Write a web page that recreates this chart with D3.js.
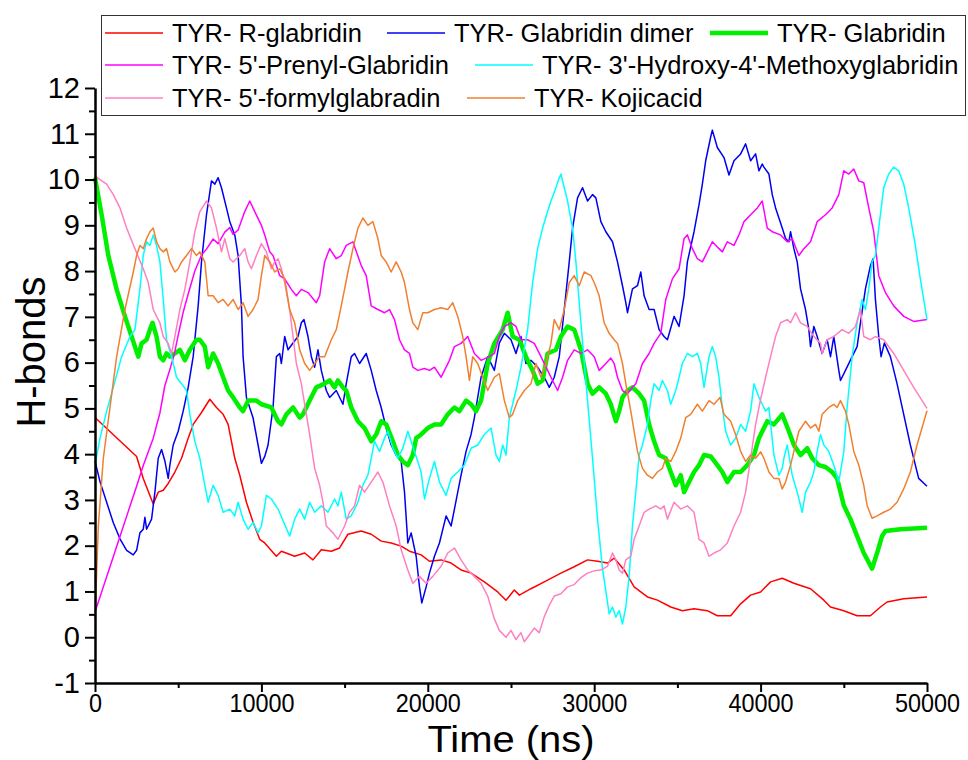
<!DOCTYPE html>
<html>
<head>
<meta charset="utf-8">
<script src="https://cdn.jsdelivr.net/npm/d3@7"></script>
<style>
  body { margin: 0; background: #fff; }
  svg { display: block; font-family: "Liberation Sans", Arial, sans-serif; }
</style>
</head>
<body>
<div id="chart"></div>
<script>
// time (ns), H-bonds
const rGlabridin = [[0,4.8],[2500,3.95],[2900,3.47],[3500,2.91],[3800,3.17],[4100,3.21],[4400,3.36],[4800,3.61],[5200,3.91],[5600,4.35],[5900,4.65],[6400,4.91],[6900,5.2],[7300,5.02],[7700,4.87],[8000,4.65],[8400,3.91],[8700,3.54],[9100,2.95],[9500,2.51],[9900,2.14],[10200,2.06],[10900,1.77],[11200,1.88],[12000,1.77],[12600,1.84],[13100,1.69],[13600,1.91],[14200,1.88],[14700,1.95],[15200,2.25],[16000,2.32],[16600,2.25],[17200,2.1],[17800,2.06],[18400,1.99],[18900,1.88],[19600,1.8],[20100,1.66],[20800,1.69],[21400,1.62],[22000,1.47],[22600,1.4],[23400,1.21],[24200,0.99],[24700,0.81],[25200,1.03],[25500,0.92],[26200,1.06],[27000,1.21],[28000,1.4],[28800,1.54],[29600,1.69],[30200,1.66],[30800,1.62],[31200,1.73],[31800,1.47],[32400,1.1],[33200,0.88],[33800,0.81],[34600,0.66],[35300,0.58],[36000,0.62],[36800,0.58],[37400,0.47],[38200,0.47],[38800,0.73],[39400,0.92],[40000,0.99],[40600,1.21],[41300,1.29],[42000,1.18],[43000,1.06],[43800,0.81],[44200,0.66],[45000,0.58],[45800,0.47],[46600,0.47],[47200,0.66],[47600,0.77],[48600,0.84],[50000,0.88]];

const glabridinDimer = [[0,3.85],[300,3.4],[700,2.95],[1100,2.5],[1500,2.15],[1900,1.9],[2300,1.8],[2500,1.9],[2700,2.28],[2900,2.36],[3000,2.62],[3100,2.36],[3400,2.58],[3600,3.17],[3800,3.91],[4000,4.1],[4200,3.85],[4400,3.47],[4500,3.76],[4700,4.2],[5000,4.5],[5300,4.94],[5600,5.46],[5900,6.13],[6200,7.24],[6400,8.2],[6700,9.23],[7000,9.97],[7200,9.9],[7400,10.04],[7600,9.82],[7900,9.38],[8100,9.08],[8400,8.79],[8600,8.34],[8800,7.24],[8900,6.13],[9100,5.24],[9500,4.79],[9800,4.2],[10000,3.8],[10200,3.95],[10400,4.2],[10700,5.02],[10900,6.13],[11100,6.2],[11200,5.98],[11400,6.57],[11600,6.28],[11900,6.43],[12200,6.57],[12400,6.87],[12560,6.94],[12800,6.57],[13000,6.13],[13200,5.9],[13400,6.28],[13600,5.83],[13900,5.39],[14100,5.24],[14500,5.39],[14900,5.09],[15100,5.54],[15400,6.13],[15600,6.2],[15900,5.98],[16300,6.2],[16600,5.83],[16900,5.39],[17200,5.02],[17500,4.57],[17800,4.2],[18100,3.98],[18400,3.84],[18600,3.17],[18800,2.06],[19000,2.28],[19300,1.77],[19500,1.1],[19640,0.75],[19900,1.1],[20100,1.4],[20400,1.77],[20700,2.06],[21100,2.65],[21400,2.43],[21600,2.8],[22000,3.54],[22300,4.06],[22600,4.43],[22800,4.8],[23000,5.24],[23200,5.68],[23600,6.13],[24000,5.83],[24300,6.43],[24600,6.64],[25000,6.5],[25300,6.2],[25600,6.57],[25900,5.98],[26200,6.05],[26600,5.9],[27100,5.61],[27300,5.46],[27600,5.68],[27900,6.13],[28200,7.16],[28500,8.2],[28700,8.94],[29000,9.6],[29300,9.82],[29600,9.53],[29900,9.67],[30100,9.6],[30400,9.08],[30700,8.86],[31100,8.64],[31400,8.2],[31700,7.68],[31900,7.31],[32000,7.09],[32300,7.61],[32600,7.68],[32800,7.98],[33000,7.46],[33300,7.16],[33600,7.16],[33900,6.72],[34200,6.57],[34400,6.5],[34800,7.01],[35100,6.79],[35400,7.46],[35600,8.2],[36000,8.86],[36300,9.45],[36500,9.9],[36700,10.41],[37000,10.93],[37100,11.08],[37400,10.7],[37800,10.48],[38100,10.1],[38400,10.41],[38800,10.56],[39100,10.78],[39400,10.41],[39700,10.56],[39900,10.19],[40100,10.34],[40200,10.27],[40500,10.12],[40700,9.67],[40900,9.38],[41100,9.16],[41300,8.94],[41500,8.71],[41700,8.64],[41800,8.86],[42000,8.49],[42200,8.2],[42400,7.61],[42700,7.16],[42900,6.72],[43000,6.35],[43200,6.79],[43400,6.57],[43700,6.2],[44000,6.5],[44200,6.13],[44400,6.57],[44700,5.83],[44800,5.61],[45100,5.83],[45500,6.13],[45800,6.35],[46000,6.87],[46300,7.61],[46600,8.12],[46760,8.27],[46900,7.38],[47100,6.57],[47240,6.13],[47440,6.43],[47800,6.13],[48200,5.54],[48600,4.87],[49000,4.2],[49500,3.47],[50000,3.3]];

const glabridin = [[0,10.04],[400,9.23],[800,8.34],[1300,7.6],[1800,7.01],[2200,6.57],[2600,6.13],[2800,6.42],[3100,6.5],[3300,6.72],[3460,6.87],[3700,6.57],[3900,6.13],[4100,6.05],[4300,6.2],[4500,6.13],[4800,6.2],[5100,6.28],[5400,6.05],[5700,6.28],[6100,6.5],[6300,6.5],[6600,6.35],[6800,5.9],[7100,6.2],[7400,5.98],[7700,5.68],[8000,5.39],[8300,5.24],[8700,5.02],[8900,4.94],[9200,5.17],[9700,5.17],[10000,5.09],[10600,5.02],[11000,4.72],[11200,4.65],[11500,4.87],[11900,5.02],[12300,4.8],[12500,4.87],[12900,5.17],[13300,5.46],[13800,5.54],[14100,5.61],[14400,5.46],[14600,5.61],[14900,5.46],[15100,5.39],[15400,5.02],[15800,4.72],[16200,4.57],[16600,4.28],[16900,4.43],[17200,4.72],[17500,4.65],[17900,4.28],[18200,3.98],[18500,3.84],[18800,3.76],[19100,3.98],[19300,4.35],[19600,4.43],[20000,4.57],[20400,4.65],[20800,4.65],[21200,4.87],[21600,5.02],[21900,4.94],[22300,5.17],[22600,5.09],[22900,4.94],[23200,5.17],[23600,5.98],[24000,6.42],[24500,6.72],[24800,7.09],[25100,6.57],[25500,6.5],[25900,6.13],[26300,5.83],[26600,5.54],[26900,5.61],[27200,6.2],[27700,6.28],[28000,6.57],[28400,6.79],[28800,6.72],[29200,6.28],[29600,5.54],[29900,5.32],[30300,5.46],[30700,5.32],[31000,5.09],[31300,4.72],[31500,4.94],[31700,5.24],[32000,5.39],[32300,5.46],[32700,5.32],[33000,5.17],[33300,4.65],[33600,4.28],[33900,3.98],[34300,3.91],[34600,3.61],[34900,3.32],[35200,3.54],[35400,3.17],[35700,3.39],[36000,3.61],[36300,3.76],[36600,3.98],[37000,3.95],[37400,3.76],[37700,3.61],[38000,3.39],[38400,3.61],[38800,3.61],[39200,3.76],[39600,3.98],[39900,4.35],[40400,4.72],[40800,4.65],[41300,4.87],[41700,4.5],[42000,4.2],[42400,3.98],[42800,4.13],[43100,3.91],[43500,3.76],[43900,3.72],[44300,3.61],[44600,3.47],[45000,2.88],[45400,2.58],[45800,2.21],[46200,1.84],[46700,1.5],[47000,1.84],[47300,2.21],[47500,2.32],[48400,2.36],[50000,2.39]];

const prenylGlabridin = [[0,0.55],[500,1.1],[1000,1.65],[1500,2.2],[2000,2.75],[2500,3.3],[2900,3.75],[3500,4.35],[3900,4.9],[4200,5.5],[4500,5.85],[4750,6.16],[5000,6.6],[5300,7.1],[5600,7.5],[6000,8.0],[6400,8.35],[6700,8.48],[7100,8.7],[7400,8.6],[7800,8.85],[8100,8.95],[8300,8.8],[8600,8.9],[9000,9.3],[9300,9.53],[9600,9.3],[10000,9.0],[10200,8.79],[10500,8.42],[10700,8.34],[11100,7.9],[11400,7.83],[11800,7.6],[12100,7.46],[12400,7.6],[12800,7.53],[13300,7.31],[13500,7.46],[13800,8.2],[14100,8.49],[14500,8.27],[14800,8.34],[15100,8.56],[15500,8.64],[16000,8.12],[16300,7.9],[16600,7.24],[17000,7.16],[17400,7.09],[17700,7.16],[18000,6.94],[18300,6.5],[18600,6.28],[18900,6.2],[19100,5.9],[19400,5.83],[19800,5.87],[20100,5.83],[20400,5.9],[20800,5.68],[21100,5.9],[21300,6.05],[21600,6.35],[22000,6.42],[22400,6.57],[22800,6.2],[23200,6.05],[23700,6.13],[24000,6.2],[24300,6.57],[24600,6.79],[25000,6.87],[25300,6.79],[25600,6.5],[26000,6.5],[26400,6.42],[26800,6.13],[27200,5.83],[27500,5.61],[27800,5.39],[28100,5.68],[28400,6.05],[28800,6.28],[29200,6.2],[29600,6.28],[30000,6.13],[30300,5.83],[30700,5.98],[31000,6.1],[31200,5.98],[31400,5.68],[31700,5.39],[32000,5.32],[32300,5.46],[32500,5.54],[32900,5.98],[33300,6.2],[33600,6.42],[34000,6.64],[34300,7.38],[34700,7.83],[35100,8.05],[35400,8.71],[35600,8.79],[35900,8.49],[36200,8.27],[36500,8.2],[36800,8.42],[37100,8.64],[37500,8.49],[37700,8.42],[38000,8.64],[38400,8.56],[38700,8.79],[39000,9.08],[39400,9.23],[39800,9.38],[40100,9.53],[40400,8.94],[40700,8.86],[41200,8.79],[41600,8.64],[41900,8.71],[42300,8.34],[42600,8.49],[43000,8.64],[43400,9.08],[43900,9.23],[44300,9.38],[44700,9.67],[45000,10.19],[45300,10.12],[45600,10.23],[45900,9.97],[46200,9.93],[46500,9.38],[46800,8.86],[47100,7.9],[47500,7.53],[48000,7.24],[48600,7.01],[49200,6.9],[50000,6.94]];

const hydroxyMethoxy = [[0,3.76],[300,4.35],[700,4.94],[1100,5.46],[1600,6.13],[2100,6.57],[2400,6.72],[2600,7.31],[2700,7.61],[2900,8.34],[3100,8.64],[3300,8.56],[3500,8.79],[3700,8.56],[3900,8.2],[4100,7.38],[4300,6.5],[4600,6.13],[4900,5.68],[5200,5.54],[5500,5.39],[5700,4.87],[6000,4.28],[6300,3.91],[6600,3.32],[6800,2.95],[7100,3.32],[7400,3.1],[7700,2.73],[8100,2.8],[8400,2.65],[8600,2.95],[8900,2.58],[9200,2.36],[9500,2.51],[9800,2.28],[10000,2.43],[10300,3.1],[10600,3.02],[11000,2.8],[11700,2.21],[12000,2.58],[12300,2.8],[12600,2.58],[12900,2.95],[13200,2.73],[13600,2.87],[14000,2.73],[14400,3.02],[14600,2.87],[14800,3.17],[15100,2.58],[15400,2.65],[15800,2.95],[16100,3.32],[16400,3.54],[16800,4.28],[17100,4.06],[17400,4.35],[17600,4.5],[17900,4.13],[18200,3.91],[18500,4.13],[18800,4.5],[19200,4.06],[19600,3.61],[19800,3.02],[20100,3.47],[20400,3.84],[20700,3.39],[21100,3.1],[21400,3.47],[21800,3.61],[22200,3.76],[22600,4.13],[23000,4.2],[23400,4.43],[23800,4.57],[24100,3.98],[24300,3.84],[24500,4.2],[24700,3.98],[24900,4.8],[25300,5.39],[25600,5.9],[26000,6.72],[26300,7.75],[26600,8.49],[26900,8.94],[27200,9.3],[27400,9.53],[27700,9.82],[27900,10.04],[28000,10.12],[28200,9.82],[28400,9.53],[28700,8.94],[28900,8.2],[29200,6.87],[29600,5.17],[29900,3.91],[30200,2.58],[30500,1.5],[30900,0.51],[31100,0.66],[31300,0.44],[31500,0.58],[31700,0.29],[31900,0.66],[32100,1.33],[32300,2.43],[32500,3.17],[32700,3.98],[32900,4.2],[33200,4.65],[33400,5.17],[33600,5.54],[33900,5.39],[34100,5.61],[34400,5.39],[34600,5.09],[34900,5.39],[35100,5.68],[35300,5.98],[35600,6.2],[35900,6.13],[36200,6.2],[36400,5.98],[36600,5.46],[36900,6.13],[37100,6.35],[37300,6.13],[37500,5.68],[37700,5.02],[37900,4.5],[38200,4.2],[38500,4.35],[38800,4.65],[39100,4.5],[39400,4.94],[39600,5.54],[39900,5.24],[40300,4.94],[40500,5.02],[40800,3.98],[41100,3.54],[41300,3.69],[41400,3.91],[41600,4.2],[41900,3.54],[42200,3.17],[42500,2.73],[42700,3.17],[43000,3.39],[43200,3.61],[43400,4.06],[43600,4.43],[43800,4.2],[44100,4.06],[44400,3.76],[44700,3.39],[45000,4.06],[45200,5.02],[45500,6.13],[45800,6.87],[46100,7.38],[46300,7.16],[46500,7.61],[46700,8.2],[46900,8.34],[47100,8.94],[47400,9.82],[47700,10.12],[48000,10.27],[48300,10.19],[48600,9.9],[48900,9.38],[49300,8.56],[49600,7.83],[50000,6.94]];

const formylGlabradin = [[0,10.08],[300,10.0],[700,9.9],[1100,9.67],[1500,9.38],[1900,8.94],[2400,8.49],[2900,8.05],[3200,7.75],[3500,7.16],[3700,7.01],[3900,6.87],[4100,6.57],[4400,6.42],[4600,6.2],[4800,6.57],[5100,7.16],[5400,7.6],[5700,8.2],[6000,8.86],[6300,9.3],[6700,9.53],[7000,9.38],[7300,8.94],[7600,8.42],[7800,8.71],[8100,8.27],[8300,8.2],[8700,8.34],[9000,8.49],[9200,8.2],[9400,8.05],[9700,8.34],[10000,8.6],[10300,8.42],[10600,8.05],[10800,8.2],[11000,8.27],[11200,8.05],[11400,7.75],[11700,7.16],[11900,6.57],[12100,5.98],[12400,5.54],[12600,5.09],[12900,4.43],[13200,3.69],[13500,3.32],[13700,2.95],[13900,2.43],[14300,2.28],[14600,2.14],[15000,2.43],[15300,2.73],[15600,2.87],[15900,3.32],[16200,3.17],[16600,3.39],[17000,3.61],[17300,3.39],[17700,2.87],[18100,2.43],[18400,1.91],[18800,1.47],[19100,1.18],[19500,1.33],[19900,1.18],[20300,1.33],[20800,1.55],[21200,1.84],[21600,1.95],[22000,1.69],[22400,1.47],[22800,1.33],[23200,1.18],[23600,0.9],[24000,0.4],[24300,0.15],[24700,0.0],[25000,0.15],[25300,-0.05],[25600,0.1],[25800,-0.1],[26100,0.05],[26400,0.2],[26700,0.1],[27000,0.45],[27300,0.7],[27600,0.9],[28000,0.95],[28400,1.1],[28800,1.15],[29200,1.3],[29600,1.4],[30000,1.45],[30400,1.47],[30800,1.55],[31100,1.84],[31300,1.69],[31500,1.47],[31700,1.4],[31900,1.69],[32200,1.77],[32400,2.14],[32700,2.43],[33000,2.73],[33300,2.8],[33700,2.87],[34000,2.8],[34200,2.87],[34400,2.58],[34800,2.95],[35200,2.8],[35600,2.87],[36000,2.73],[36300,2.14],[36600,2.06],[36900,1.77],[37200,1.84],[37600,1.91],[38000,2.06],[38400,2.43],[38800,2.73],[39100,3.17],[39400,3.91],[39700,4.65],[40000,5.2],[40300,5.68],[40600,6.13],[40900,6.57],[41200,6.87],[41600,6.94],[41800,6.87],[42100,7.09],[42400,6.87],[42800,6.79],[43200,6.57],[43600,6.42],[43700,6.2],[44000,6.5],[44400,6.57],[44900,6.72],[45300,6.64],[45700,6.79],[46000,7.16],[46200,6.57],[46600,6.5],[46900,6.57],[47400,6.5],[48000,6.2],[48600,5.83],[49200,5.46],[50000,5.0]];

const kojicAcid = [[0,0.4],[200,2.43],[500,3.91],[900,5.02],[1300,6.13],[1800,7.16],[2300,7.98],[2500,8.34],[2700,8.56],[2900,8.49],[3100,8.71],[3300,8.86],[3500,8.94],[3700,8.64],[3900,8.49],[4100,8.42],[4300,8.49],[4500,8.2],[4800,7.98],[5000,8.05],[5200,8.2],[5500,8.34],[5800,8.49],[6100,8.34],[6300,8.42],[6600,8.2],[6800,7.46],[7100,7.46],[7400,7.31],[7700,7.38],[8000,7.24],[8300,7.38],[8600,7.16],[8900,7.31],[9200,7.01],[9500,7.16],[9800,7.38],[10000,7.9],[10200,8.34],[10500,8.2],[10800,7.98],[11100,8.05],[11400,7.83],[11700,7.16],[12000,6.87],[12300,6.28],[12600,5.98],[12900,5.83],[13200,5.98],[13500,6.13],[13800,6.13],[14200,6.5],[14500,6.72],[14800,7.24],[15200,7.98],[15500,8.49],[15800,8.94],[16100,9.16],[16400,9.0],[16700,9.08],[17000,8.71],[17200,8.34],[17500,8.2],[17800,7.98],[18100,8.2],[18400,7.98],[18600,7.75],[18900,7.16],[19100,6.87],[19400,6.72],[19700,7.09],[20000,7.09],[20400,7.16],[20800,7.2],[21200,7.16],[21500,7.31],[21800,7.01],[22100,6.57],[22300,6.13],[22500,5.61],[22700,6.13],[23000,5.98],[23300,5.68],[23600,5.39],[24000,5.68],[24300,5.76],[24600,5.17],[24900,4.8],[25100,4.87],[25400,5.17],[25800,5.39],[26200,5.54],[26500,5.98],[26800,5.68],[27100,5.98],[27400,6.42],[27600,6.94],[27900,6.72],[28200,7.16],[28500,7.75],[28800,7.9],[29100,7.68],[29400,7.98],[29800,7.9],[30000,7.75],[30300,7.46],[30600,6.87],[30900,6.64],[31200,6.5],[31400,6.42],[31700,5.98],[31900,5.54],[32200,4.94],[32400,4.5],[32600,4.06],[32900,3.69],[33200,3.54],[33500,3.47],[33800,3.61],[34100,3.69],[34300,3.91],[34600,3.84],[34900,4.06],[35200,4.35],[35500,4.8],[35800,4.87],[36200,5.09],[36500,4.94],[36900,5.17],[37200,5.09],[37560,5.24],[37800,4.87],[38200,4.72],[38500,4.43],[38800,4.06],[39100,3.84],[39400,3.98],[39700,3.91],[40000,4.05],[40200,3.91],[40500,3.61],[40800,3.47],[41100,3.47],[41300,3.24],[41500,3.39],[41800,3.76],[42000,4.06],[42300,4.5],[42700,4.72],[43000,4.57],[43300,4.65],[43500,4.5],[43700,4.87],[44100,5.02],[44400,5.09],[44600,5.02],[44800,5.17],[45100,4.94],[45300,4.65],[45600,4.06],[45900,3.76],[46200,3.32],[46400,2.88],[46700,2.6],[47000,2.65],[47400,2.73],[47800,2.8],[48200,2.95],[48600,3.24],[49000,3.61],[49400,4.2],[50000,4.95]];

const seriesNames = ["TYR- R-glabridin", "TYR- Glabridin dimer", "TYR- Glabridin",
  "TYR- 5'-Prenyl-Glabridin", "TYR- 3'-Hydroxy-4'-Methoxyglabridin",
  "TYR- 5'-formylglabradin", "TYR- Kojicacid"];
const seriesData = [rGlabridin, glabridinDimer, glabridin, prenylGlabridin,
  hydroxyMethoxy, formylGlabradin, kojicAcid];
const seriesColors = ["#ff0000", "#0000f0", "#00f000", "#ff00ff", "#00ffff", "#ff80c0", "#f08030"];
const seriesWidths = [1.5, 1.5, 4.5, 1.5, 1.5, 1.5, 1.5];

const xTicks = [0, 10000, 20000, 30000, 40000, 50000];
const yTicks = d3.range(-1, 13);

const width = 968, height = 760;
const margin = {top: 88, right: 41, bottom: 77, left: 95};
const innerW = width - margin.left - margin.right;
const innerH = height - margin.top - margin.bottom;

const svg = d3.select("#chart").append("svg")
    .attr("width", width)
    .attr("height", height);

const g = svg.append("g")
    .attr("transform", "translate(" + margin.left + "," + margin.top + ")");

const xScale = d3.scaleLinear().domain([0, 50000]).range([0, innerW]);
const yScale = d3.scaleLinear().domain([-1, 12]).range([innerH, 0]);

// lines
const line = d3.line()
    .x(d => xScale(d[0]))
    .y(d => yScale(d[1]));

seriesData.forEach((data, i) => {
    g.append("path")
        .datum(data)
        .attr("fill", "none")
        .attr("stroke", seriesColors[i])
        .attr("stroke-width", seriesWidths[i])
        .attr("stroke-linejoin", "round")
        .attr("d", line);
});

// minor ticks
g.append("g")
    .attr("transform", "translate(0," + innerH + ")")
    .call(d3.axisBottom(xScale).tickValues(d3.range(5000, 50000, 10000)).tickSize(5).tickFormat(""))
    .call(s => s.select(".domain").remove())
    .selectAll("line").attr("stroke-width", 2);
g.append("g")
    .call(d3.axisLeft(yScale).tickValues(d3.range(-0.5, 12, 1)).tickSize(6).tickFormat(""))
    .call(s => s.select(".domain").remove())
    .selectAll("line").attr("stroke-width", 2);

// x axis
const xAxis = g.append("g")
    .attr("transform", "translate(0," + innerH + ")")
    .call(d3.axisBottom(xScale).tickValues(xTicks).tickSize(9).tickSizeOuter(0).tickPadding(2).tickFormat(d => String(d)));
xAxis.select(".domain").attr("stroke-width", 2.5);
xAxis.selectAll("line").attr("stroke-width", 2);
xAxis.selectAll("text")
    .attr("fill", "#000")
    .attr("transform", "scale(0.9,1)")
    .style("font-size", "26px");

// y axis
const yAxis = g.append("g")
    .call(d3.axisLeft(yScale).tickValues(yTicks).tickSize(10).tickSizeOuter(0).tickPadding(5).tickFormat(d => String(d)));
yAxis.select(".domain").attr("stroke-width", 2.5);
yAxis.selectAll("line").attr("stroke-width", 2);
yAxis.selectAll("text")
    .attr("fill", "#000")
    .style("font-size", "29px");

// axis titles
svg.append("text")
    .attr("transform", "translate(" + (margin.left + innerW / 2) + ",752) scale(1.08,1)")
    .attr("text-anchor", "middle")
    .style("font-size", "37px")
    .text("Time (ns)");

svg.append("text")
    .attr("transform", "translate(45,352) rotate(-90)")
    .attr("text-anchor", "middle")
    .style("font-size", "40px")
    .text("H-bonds");

// legend
const legendPos = [[105, 33], [387, 33], [710, 33], [105, 65], [475, 65], [105, 98], [467, 98]];
const legend = svg.append("g");
legend.append("rect")
    .attr("x", 101.5).attr("y", 15.5)
    .attr("width", 864).attr("height", 100)
    .attr("fill", "#fff")
    .attr("stroke", "#333")
    .attr("stroke-width", 1);

seriesNames.forEach((name, i) => {
    const p = legendPos[i];
    legend.append("line")
        .attr("x1", p[0]).attr("x2", p[0] + 58)
        .attr("y1", p[1]).attr("y2", p[1])
        .attr("stroke", seriesColors[i])
        .attr("stroke-width", seriesWidths[i]);
    legend.append("text")
        .attr("x", p[0] + 67)
        .attr("y", p[1] + 9)
        .style("font-size", "25.5px")
        .text(name);
});
</script>
</body>
</html>
